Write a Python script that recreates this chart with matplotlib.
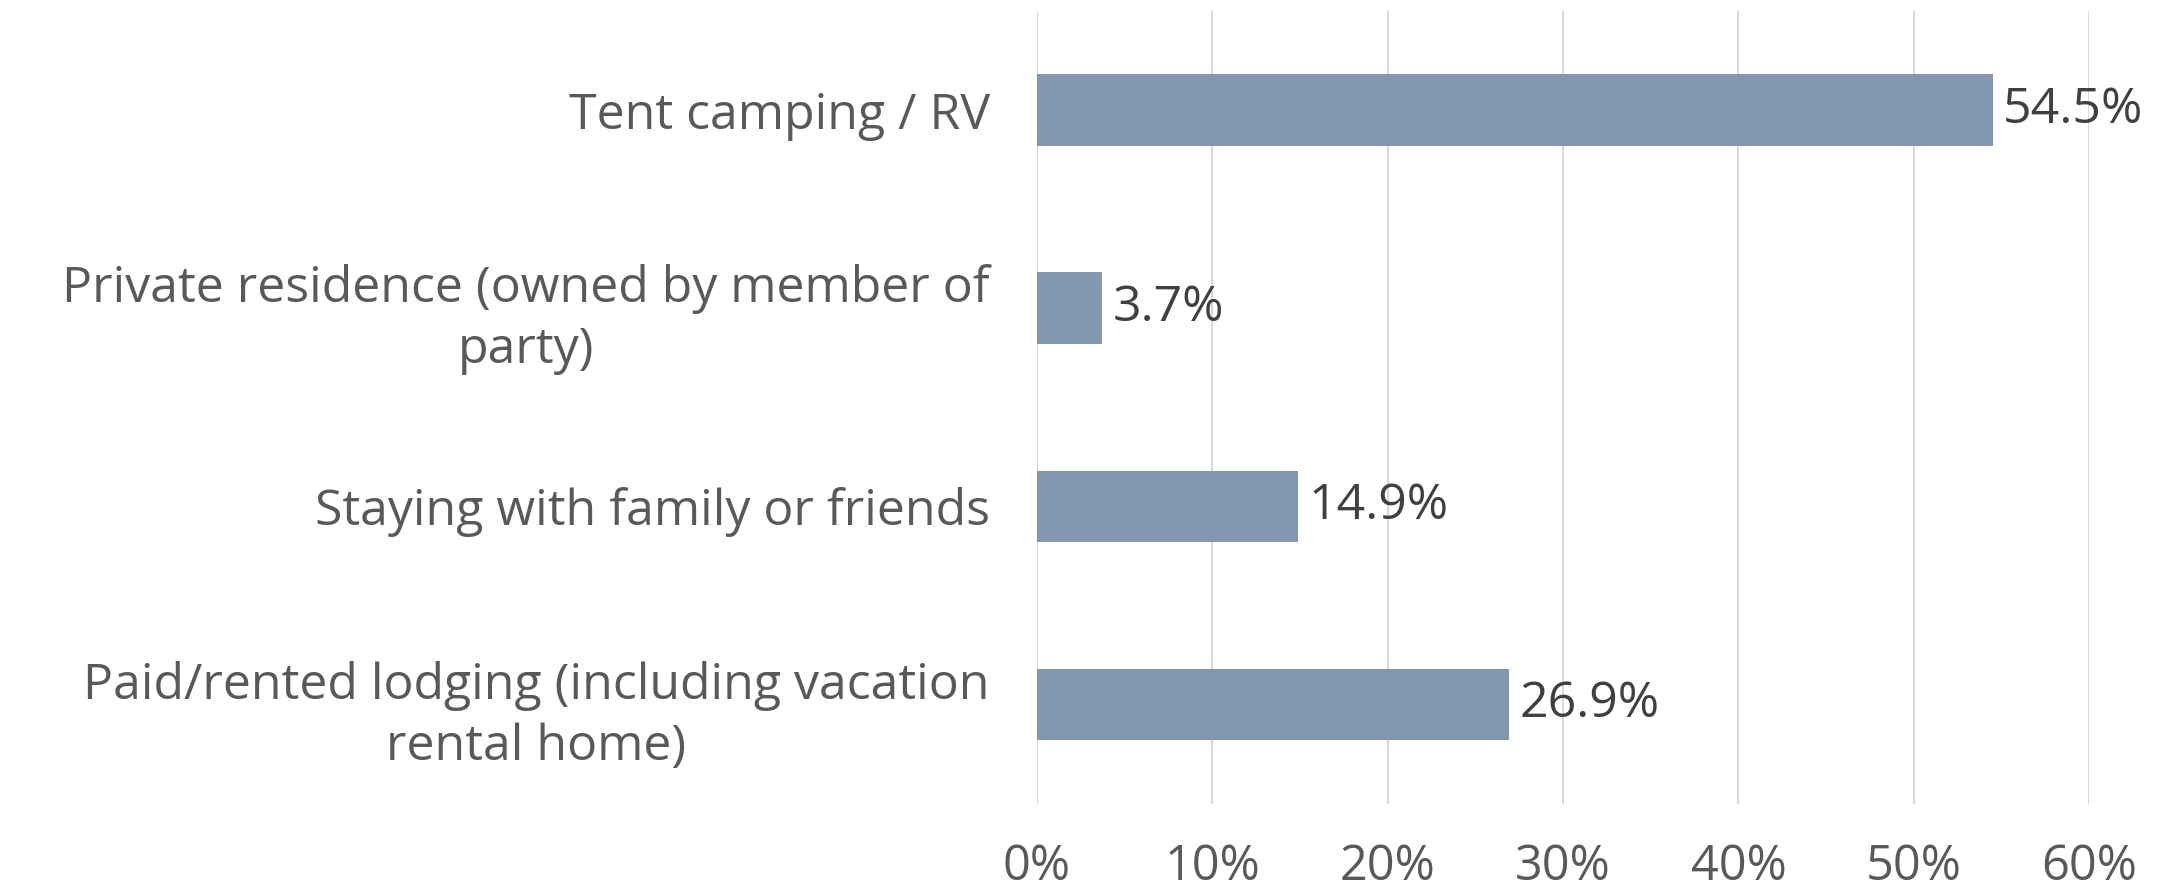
import matplotlib
matplotlib.use("Agg")
import matplotlib.pyplot as plt
from matplotlib.ticker import FuncFormatter

# data, top to bottom as shown
categories = ['Tent camping / RV',
              'Private residence (owned by member of\nparty)',
              'Staying with family or friends',
              'Paid/rented lodging (including vacation\nrental home)']
values = [54.5, 3.7, 14.9, 26.9]
xticks = [0, 10, 20, 30, 40, 50, 60]

plt.rcParams['font.family'] = ['Open Sans', 'DejaVu Sans']

fig = plt.figure(figsize=(21.74, 8.96), dpi=100)
ax = fig.add_axes([0.477, 0.103, 0.484, 0.885])

pos = list(range(len(categories)))
bars = ax.barh(pos, values, height=0.36, color='#8497B0', zorder=3)
for b, v in zip(bars, values):
    ax.text(b.get_width() + 0.6, b.get_y() + b.get_height() / 2, f'{v}%',
            va='center', ha='left', fontsize=36, color='#404040')

ax.set_yticks(pos)
ax.set_yticklabels(categories, fontsize=36, color='#595959', ha='right',
                   multialignment='center', linespacing=1.3)
ax.set_ylim(3.5, -0.5)
ax.set_xlim(0, 60)
ax.set_xticks(xticks)
ax.xaxis.set_major_formatter(FuncFormatter(lambda x, p: f'{x:.0f}%'))
ax.tick_params(axis='x', labelsize=35, labelcolor='#595959', length=0, pad=28)
ax.tick_params(axis='y', length=0, pad=34)
ax.grid(axis='x', color='#D9D9D9', linewidth=1.5, zorder=0)
for s in ax.spines.values():
    s.set_visible(False)

fig.savefig('out.png', dpi=100)
